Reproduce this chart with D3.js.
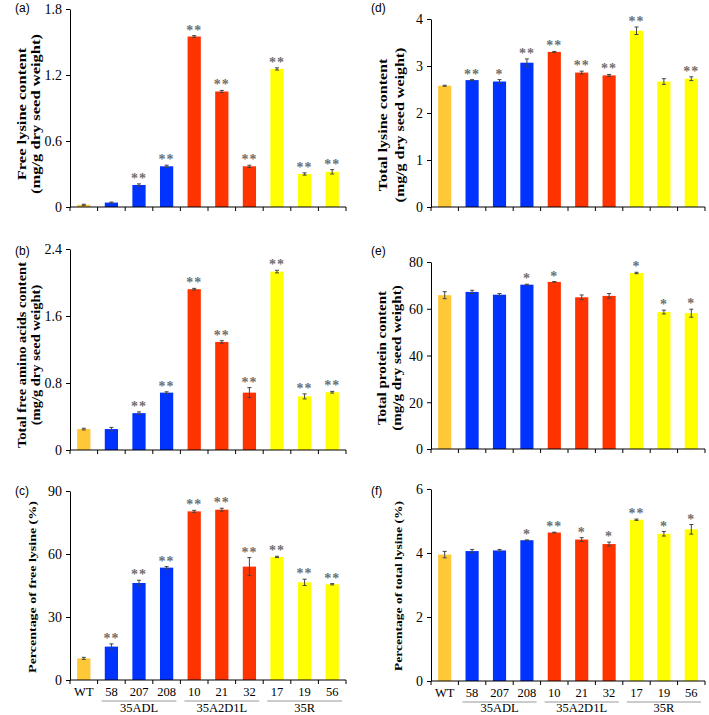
<!DOCTYPE html>
<html><head><meta charset="utf-8">
<script src="https://cdn.jsdelivr.net/npm/d3@7"></script>
<style>body{margin:0;background:#fff}svg{display:block}</style>
</head><body>
<script>
// ---- data ----
const categories = ["WT","58","207","208","10","21","32","17","19","56"];
const lineGroup = ["WT","35ADL","35ADL","35ADL","35A2D1L","35A2D1L","35A2D1L","35R","35R","35R"];
const groupNames = ["35ADL","35A2D1L","35R"];

const freeLys = [0.02,0.04,0.20,0.37,1.55,1.05,0.37,1.255,0.30,0.32];
const freeLysErr = [0.005,0.005,0.01,0.01,0.008,0.01,0.01,0.01,0.01,0.02];
const freeLysSig = ["","","**","**","**","**","**","**","**","**"];
const freeLysTicks = [0,0.6,1.2,1.8];

const freeAA = [0.25,0.25,0.44,0.685,1.92,1.29,0.685,2.13,0.64,0.69];
const freeAAErr = [0.01,0.02,0.015,0.01,0.01,0.015,0.06,0.015,0.03,0.01];
const freeAASig = ["","","**","**","**","**","**","**","**","**"];
const freeAATicks = [0,0.8,1.6,2.4];

const pctFreeLys = [10.3,15.9,46.2,53.5,80.3,81.1,54.0,58.6,46.5,45.6];
const pctFreeLysErr = [0.5,1.3,1.3,0.5,0.5,0.7,4.3,0.3,1.5,0.3];
const pctFreeLysSig = ["","**","**","**","**","**","**","**","**","**"];
const pctFreeLysTicks = [0,30,60,90];

const totalLys = [2.58,2.70,2.67,3.07,3.30,2.86,2.80,3.75,2.67,2.73];
const totalLysErr = [0.01,0.01,0.04,0.08,0.01,0.03,0.02,0.08,0.06,0.04];
const totalLysSig = ["","**","*","**","**","**","**","**","","**"];
const totalLysTicks = [0,1,2,3,4];

const protein = [65.8,67.2,66.0,70.3,71.5,64.9,65.5,75.3,58.6,58.1];
const proteinErr = [1.5,0.7,0.5,0.2,0.1,1.0,1.0,0.3,0.8,1.7];
const proteinSig = ["","","","*","*","","","*","*","*"];
const proteinTicks = [0,20,40,60,80];

const pctTotalLys = [3.95,4.06,4.08,4.40,4.64,4.42,4.28,5.04,4.60,4.74];
const pctTotalLysErr = [0.1,0.05,0.03,0.01,0.01,0.06,0.06,0.02,0.07,0.15];
const pctTotalLysSig = ["","","","*","**","*","*","**","*","*"];
const pctTotalLysTicks = [0,2,4,6];

// ---- style ----
const color = d3.scaleOrdinal()
  .domain(["WT","35ADL","35A2D1L","35R"])
  .range(["#FFC837","#0033FF","#FF3300","#FFFF00"]);
const serif = "'Liberation Serif','Times New Roman',serif";

const svg = d3.select("body").append("svg").attr("width",709).attr("height",715);

const panels = [
  {tag:"(a)", vals:freeLys, err:freeLysErr, sig:freeLysSig, ticks:freeLysTicks,
   label:["Free lysine content","(mg/g dry seed weight)"], lfs:16.5, lcy:114,
   x0:70, x1:346, top:9, bot:207, lx:[22,36], tagx:15, tagy:8, xlab:false},
  {tag:"(b)", vals:freeAA, err:freeAAErr, sig:freeAASig, ticks:freeAATicks,
   label:["Total free amino acids content","(mg/g dry seed weight)"], lfs:14.5, lcy:355,
   x0:70, x1:346, top:249, bot:450, lx:[22,36], tagx:15, tagy:251, xlab:false},
  {tag:"(c)", vals:pctFreeLys, err:pctFreeLysErr, sig:pctFreeLysSig, ticks:pctFreeLysTicks,
   label:["Percentage of free lysine (%)"], lfs:14, lcy:587,
   x0:70, x1:346, top:491, bot:680, lx:[32], tagx:15, tagy:491, xlab:true},
  {tag:"(d)", vals:totalLys, err:totalLysErr, sig:totalLysSig, ticks:totalLysTicks,
   label:["Total lysine content","(mg/g dry seed weight)"], lfs:16, lcy:125,
   x0:431, x1:705, top:19, bot:207, lx:[383,400], tagx:371, tagy:8, xlab:false},
  {tag:"(e)", vals:protein, err:proteinErr, sig:proteinSig, ticks:proteinTicks,
   label:["Total protein content","(mg/g dry seed weight)"], lfs:15, lcy:358,
   x0:431, x1:705, top:262, bot:449, lx:[382,397], tagx:371, tagy:251, xlab:false},
  {tag:"(f)", vals:pctTotalLys, err:pctTotalLysErr, sig:pctTotalLysSig, ticks:pctTotalLysTicks,
   label:["Percentage of total lysine (%)"], lfs:13.5, lcy:586,
   x0:431, x1:705, top:489, bot:681, lx:[398], tagx:371, tagy:491, xlab:true},
];

panels.forEach(p => {
  const g = svg.append("g");
  const x = d3.scaleBand().domain(categories).range([p.x0, p.x1]);
  const y = d3.scaleLinear().domain([0, d3.max(p.ticks)]).range([p.bot, p.top]);
  const bw = x.bandwidth()*0.48;
  const data = categories.map((c,i)=>({c, v:p.vals[i], e:p.err[i], s:p.sig[i], grp:lineGroup[i]}));
  const cx = d => x(d.c)+x.bandwidth()/2;

  // bars
  g.selectAll("rect.bar").data(data).join("rect")
    .attr("x", d=>x(d.c)+(x.bandwidth()-bw)/2)
    .attr("y", d=>y(d.v))
    .attr("width", bw)
    .attr("height", d=>y(0)-y(d.v))
    .attr("fill", d=>color(d.grp));

  // error bars
  const eb = g.selectAll("g.eb").data(data).join("g")
    .attr("stroke","#444").attr("stroke-width",1);
  eb.append("line").attr("x1",cx).attr("x2",cx)
    .attr("y1", d=>y(d.v+d.e)).attr("y2", d=>y(d.v-d.e));
  eb.append("line").attr("x1",d=>cx(d)-2).attr("x2",d=>cx(d)+2)
    .attr("y1", d=>y(d.v+d.e)).attr("y2", d=>y(d.v+d.e));
  eb.append("line").attr("x1",d=>cx(d)-2).attr("x2",d=>cx(d)+2)
    .attr("y1", d=>y(d.v-d.e)).attr("y2", d=>y(d.v-d.e));

  // significance
  g.selectAll("text.sig").data(data.filter(d=>d.s)).join("text")
    .attr("x", cx)
    .attr("y", d=>y(d.v+d.e)-1)
    .attr("text-anchor","middle")
    .attr("font-family", serif).attr("font-size",14).attr("font-weight","bold")
    .attr("letter-spacing", 1)
    .attr("fill","#6e6e6e")
    .text(d=>d.s);

  // y axis
  const ya = g.append("g").attr("transform",`translate(${p.x0},0)`)
    .call(d3.axisLeft(y).tickValues(p.ticks).tickSize(4).tickSizeOuter(0).tickPadding(5).tickFormat(d=>String(d)));
  ya.select(".domain").attr("stroke","#000");
  ya.selectAll("line").attr("stroke","#000");
  ya.selectAll("text").attr("font-family",serif).attr("font-size",15.5).attr("fill","#000")
    .attr("transform","scale(0.9,1)");

  // x axis
  const xa = g.append("g").attr("transform",`translate(0,${p.bot})`);
  xa.append("line").attr("x1",p.x0).attr("x2",p.x1).attr("y1",0).attr("y2",0).attr("stroke","#000");
  xa.selectAll("line.t").data(categories.concat(["__end"])).join("line")
    .attr("x1",(d,i)=>i<categories.length? x(d) : p.x1)
    .attr("x2",(d,i)=>i<categories.length? x(d) : p.x1)
    .attr("y1",0).attr("y2",4).attr("stroke","#000");

  if (p.xlab) {
    xa.selectAll("text.cat").data(categories).join("text")
      .attr("x", d=>x(d)+x.bandwidth()/2).attr("y",16)
      .attr("text-anchor","middle").attr("font-family",serif).attr("font-size",12.5).attr("fill","#000")
      .text(d=>d);
    groupNames.forEach(gn => {
      const members = categories.filter((c,i)=>lineGroup[i]===gn);
      const a = x(members[0])+4, b = x(members[members.length-1])+x.bandwidth()-4;
      xa.append("line").attr("x1",a).attr("x2",b).attr("y1",21).attr("y2",21).attr("stroke","#999").attr("stroke-width",1);
      xa.append("text").attr("x",(a+b)/2).attr("y",p.bot===680?32:31).attr("text-anchor","middle")
        .attr("font-family",serif).attr("font-size",12.5).attr("fill","#000").text(gn);
    });
  }

  // y label (horizontally squashed like the reference)
  p.label.forEach((t,i)=>{
    g.append("text").attr("transform",`translate(${p.lx[i]},${p.lcy}) rotate(-90) scale(1,0.8)`)
      .attr("text-anchor","middle").attr("dominant-baseline","central")
      .attr("font-family",serif).attr("font-weight","bold").attr("font-size",p.lfs).attr("fill","#000")
      .text(t);
  });

  // panel tag
  g.append("text").attr("x",p.tagx).attr("y",p.tagy).attr("dominant-baseline","central")
    .attr("font-family","'Liberation Sans',Arial,sans-serif").attr("font-size",12).attr("fill","#000")
    .text(p.tag);
});
</script>
</body></html>
